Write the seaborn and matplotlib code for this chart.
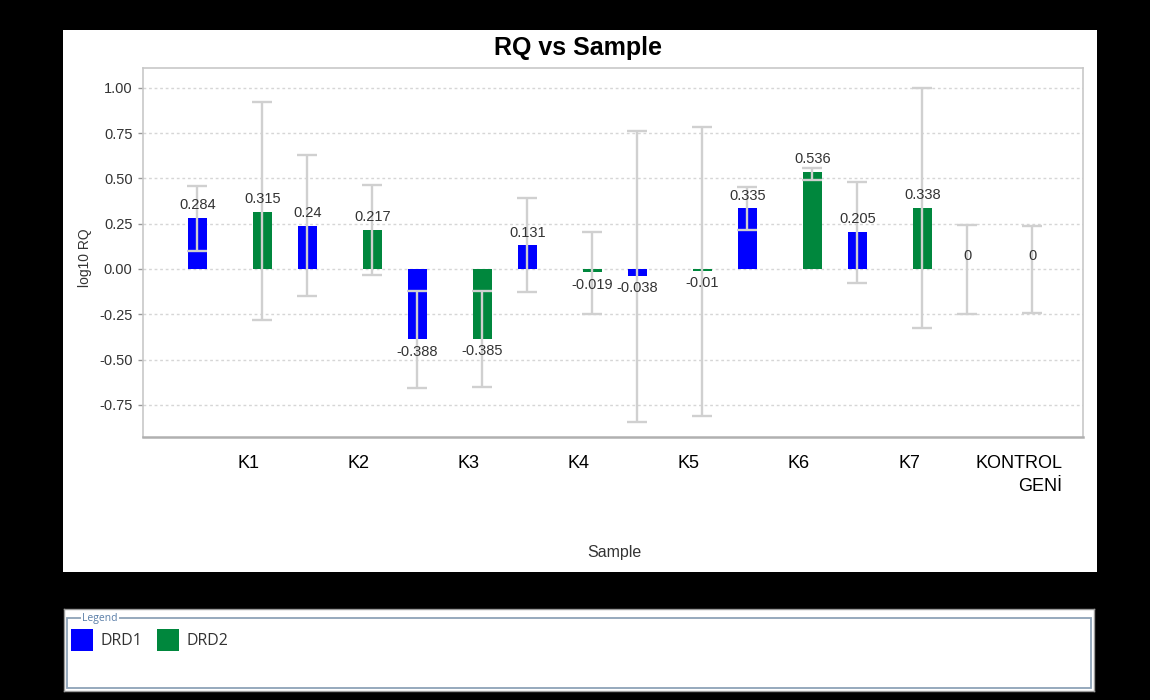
import numpy as np
import pandas as pd
import matplotlib
matplotlib.use("Agg")
import matplotlib.pyplot as plt
import matplotlib.transforms as mtransforms
from matplotlib.patches import Rectangle, Patch
import seaborn as sns

# ---------------- data ----------------
samples = ["K1", "K2", "K3", "K4", "K5", "K6", "K7", "KONTROL\nGENİ"]
genes = ["DRD1", "DRD2"]
drd1_rq = [0.284, 0.24, -0.388, 0.131, -0.038, 0.335, 0.205, 0]
drd2_rq = [0.315, 0.217, -0.385, -0.019, -0.01, 0.536, 0.338, 0]
drd1_hi = [0.46, 0.63, -0.12, 0.39, 0.76, 0.45, 0.48, 0.245]
drd1_lo = [0.10, -0.15, -0.66, -0.125, -0.845, 0.215, -0.08, -0.25]
drd2_hi = [0.92, 0.465, -0.12, 0.205, 0.785, 0.56, 1.00, 0.237]
drd2_lo = [-0.28, -0.033, -0.65, -0.25, -0.81, 0.49, -0.325, -0.245]
yticks = [-0.75, -0.5, -0.25, 0.0, 0.25, 0.5, 0.75, 1.0]
colors = ["#0000FF", "#00873D"]

W, H = 1150, 700
sns.set_style("white")
plt.rcParams["font.family"] = ["Liberation Sans", "DejaVu Sans"]

fig = plt.figure(figsize=(11.5, 7), dpi=100, facecolor="black")


def fx(px):
    return px / W


def fy(py):
    return 1 - py / H


# white chart panel
fig.add_artist(Rectangle((fx(63), fy(572)), fx(1097) - fx(63), fy(30) - fy(572),
                         transform=fig.transFigure, facecolor="white",
                         edgecolor="none", zorder=-1))

ax = fig.add_axes([fx(143), fy(437), fx(1083) - fx(143), fy(68) - fy(437)])
ax.set_facecolor("white")

df = pd.DataFrame({
    "Sample": samples * 2,
    "Gene": [genes[0]] * len(samples) + [genes[1]] * len(samples),
    "log10 RQ": drd1_rq + drd2_rq,
})

sns.barplot(data=df, x="Sample", y="log10 RQ", hue="Gene", order=samples,
            hue_order=genes, palette=dict(zip(genes, colors)), saturation=1,
            width=1.18, gap=0.717, errorbar=None, legend=False, linewidth=0,
            ax=ax, zorder=2)

vals = [drd1_rq, drd2_rq]
his = [drd1_hi, drd2_hi]
los = [drd1_lo, drd2_lo]
for cont, v, hi, lo in zip(ax.containers, vals, his, los):
    patches = sorted(cont.patches, key=lambda p: p.get_x())
    xs = [p.get_x() + p.get_width() / 2 for p in patches]
    v = np.array(v, dtype=float)
    hi = np.array(hi, dtype=float)
    lo = np.array(lo, dtype=float)
    ax.errorbar(xs, v, yerr=[v - lo, hi - v], fmt="none", ecolor="#d0d0d0",
                elinewidth=1.7, capsize=7, capthick=1.7, zorder=3)
    for x, val in zip(xs, v):
        ax.annotate(f"{val:g}", (x, val),
                    xytext=(0, 4 if val >= 0 else -4), textcoords="offset points",
                    ha="center", va="bottom" if val >= 0 else "top",
                    fontsize=10.5, color="#333333", zorder=4)

ax.set_xlim(-0.79, 7.755)
ax.set_ylim(-0.928, 1.11)
ax.set_yticks(yticks)
ax.set_yticklabels([f"{t:.2f}" for t in yticks])
ax.set_xticks(range(len(samples)))
ax.set_xticklabels(samples)
ax.set_xlabel("")
ax.set_ylabel("")
ax.yaxis.grid(True, color="#d6d6d6", linestyle=(0, (2, 2)), linewidth=1)
ax.xaxis.grid(False)
ax.set_axisbelow(True)
for s in ax.spines.values():
    s.set_color("#c8c8c8")
    s.set_linewidth(1.2)
ax.spines["bottom"].set_color("#b0b0b0")
ax.spines["bottom"].set_linewidth(1.8)

ax.tick_params(axis="y", left=True, length=3.5, width=1, color="#999999",
               labelsize=10.5, labelcolor="#333333", pad=4)
ax.tick_params(axis="x", bottom=False, length=0, pad=13, labelsize=13,
               labelcolor="black")

offset = mtransforms.ScaledTranslation(0.19, 0, fig.dpi_scale_trans)
for lab in ax.get_xticklabels():
    lab.set_transform(lab.get_transform() + offset)
    lab.set_multialignment("right")
    lab.set_linespacing(1.45)

fig.text(fx(578), fy(48), "RQ vs Sample", fontsize=18, fontweight="bold",
         ha="center", va="center", color="black")
fig.text(fx(85), fy(258), "log10 RQ", rotation=90, fontsize=10,
         ha="center", va="center", color="#333333")
fig.text(fx(614), fy(552), "Sample", fontsize=11.5, ha="center", va="center",
         color="#333333")

# ---------------- legend panel ----------------
lax = fig.add_axes([fx(64), fy(691), fx(1094) - fx(64), fy(609) - fy(691)])
lax.set_facecolor("white")
lax.set_xticks([])
lax.set_yticks([])
for s in lax.spines.values():
    s.set_color("#9a9a9a")
    s.set_linewidth(1)
lax.set_xlim(0, 1030)
lax.set_ylim(82, 0)
lax.add_patch(Rectangle((3, 9), 1024, 70, fill=False, edgecolor="#8ea3b8", lw=1.3))
lax.text(18, 9, "Legend", fontsize=7.5, color="#5a7ea8", va="center", ha="left",
         family=["Open Sans", "DejaVu Sans"],
         bbox=dict(facecolor="white", edgecolor="none", pad=1))
handles = [Patch(facecolor=c, edgecolor="none") for c in colors]
lax.legend(handles=handles, labels=genes, loc="upper left",
           bbox_to_anchor=(7 / 1030, 1 - 20 / 82), borderaxespad=0, borderpad=0,
           frameon=False, ncol=2, handlelength=1.4, handleheight=1.75,
           handletextpad=0.42, columnspacing=0.95,
           prop={"family": ["Open Sans", "DejaVu Sans"], "size": 11.5},
           labelcolor="#333333")

fig.savefig("out.png", dpi=100, facecolor="black")
